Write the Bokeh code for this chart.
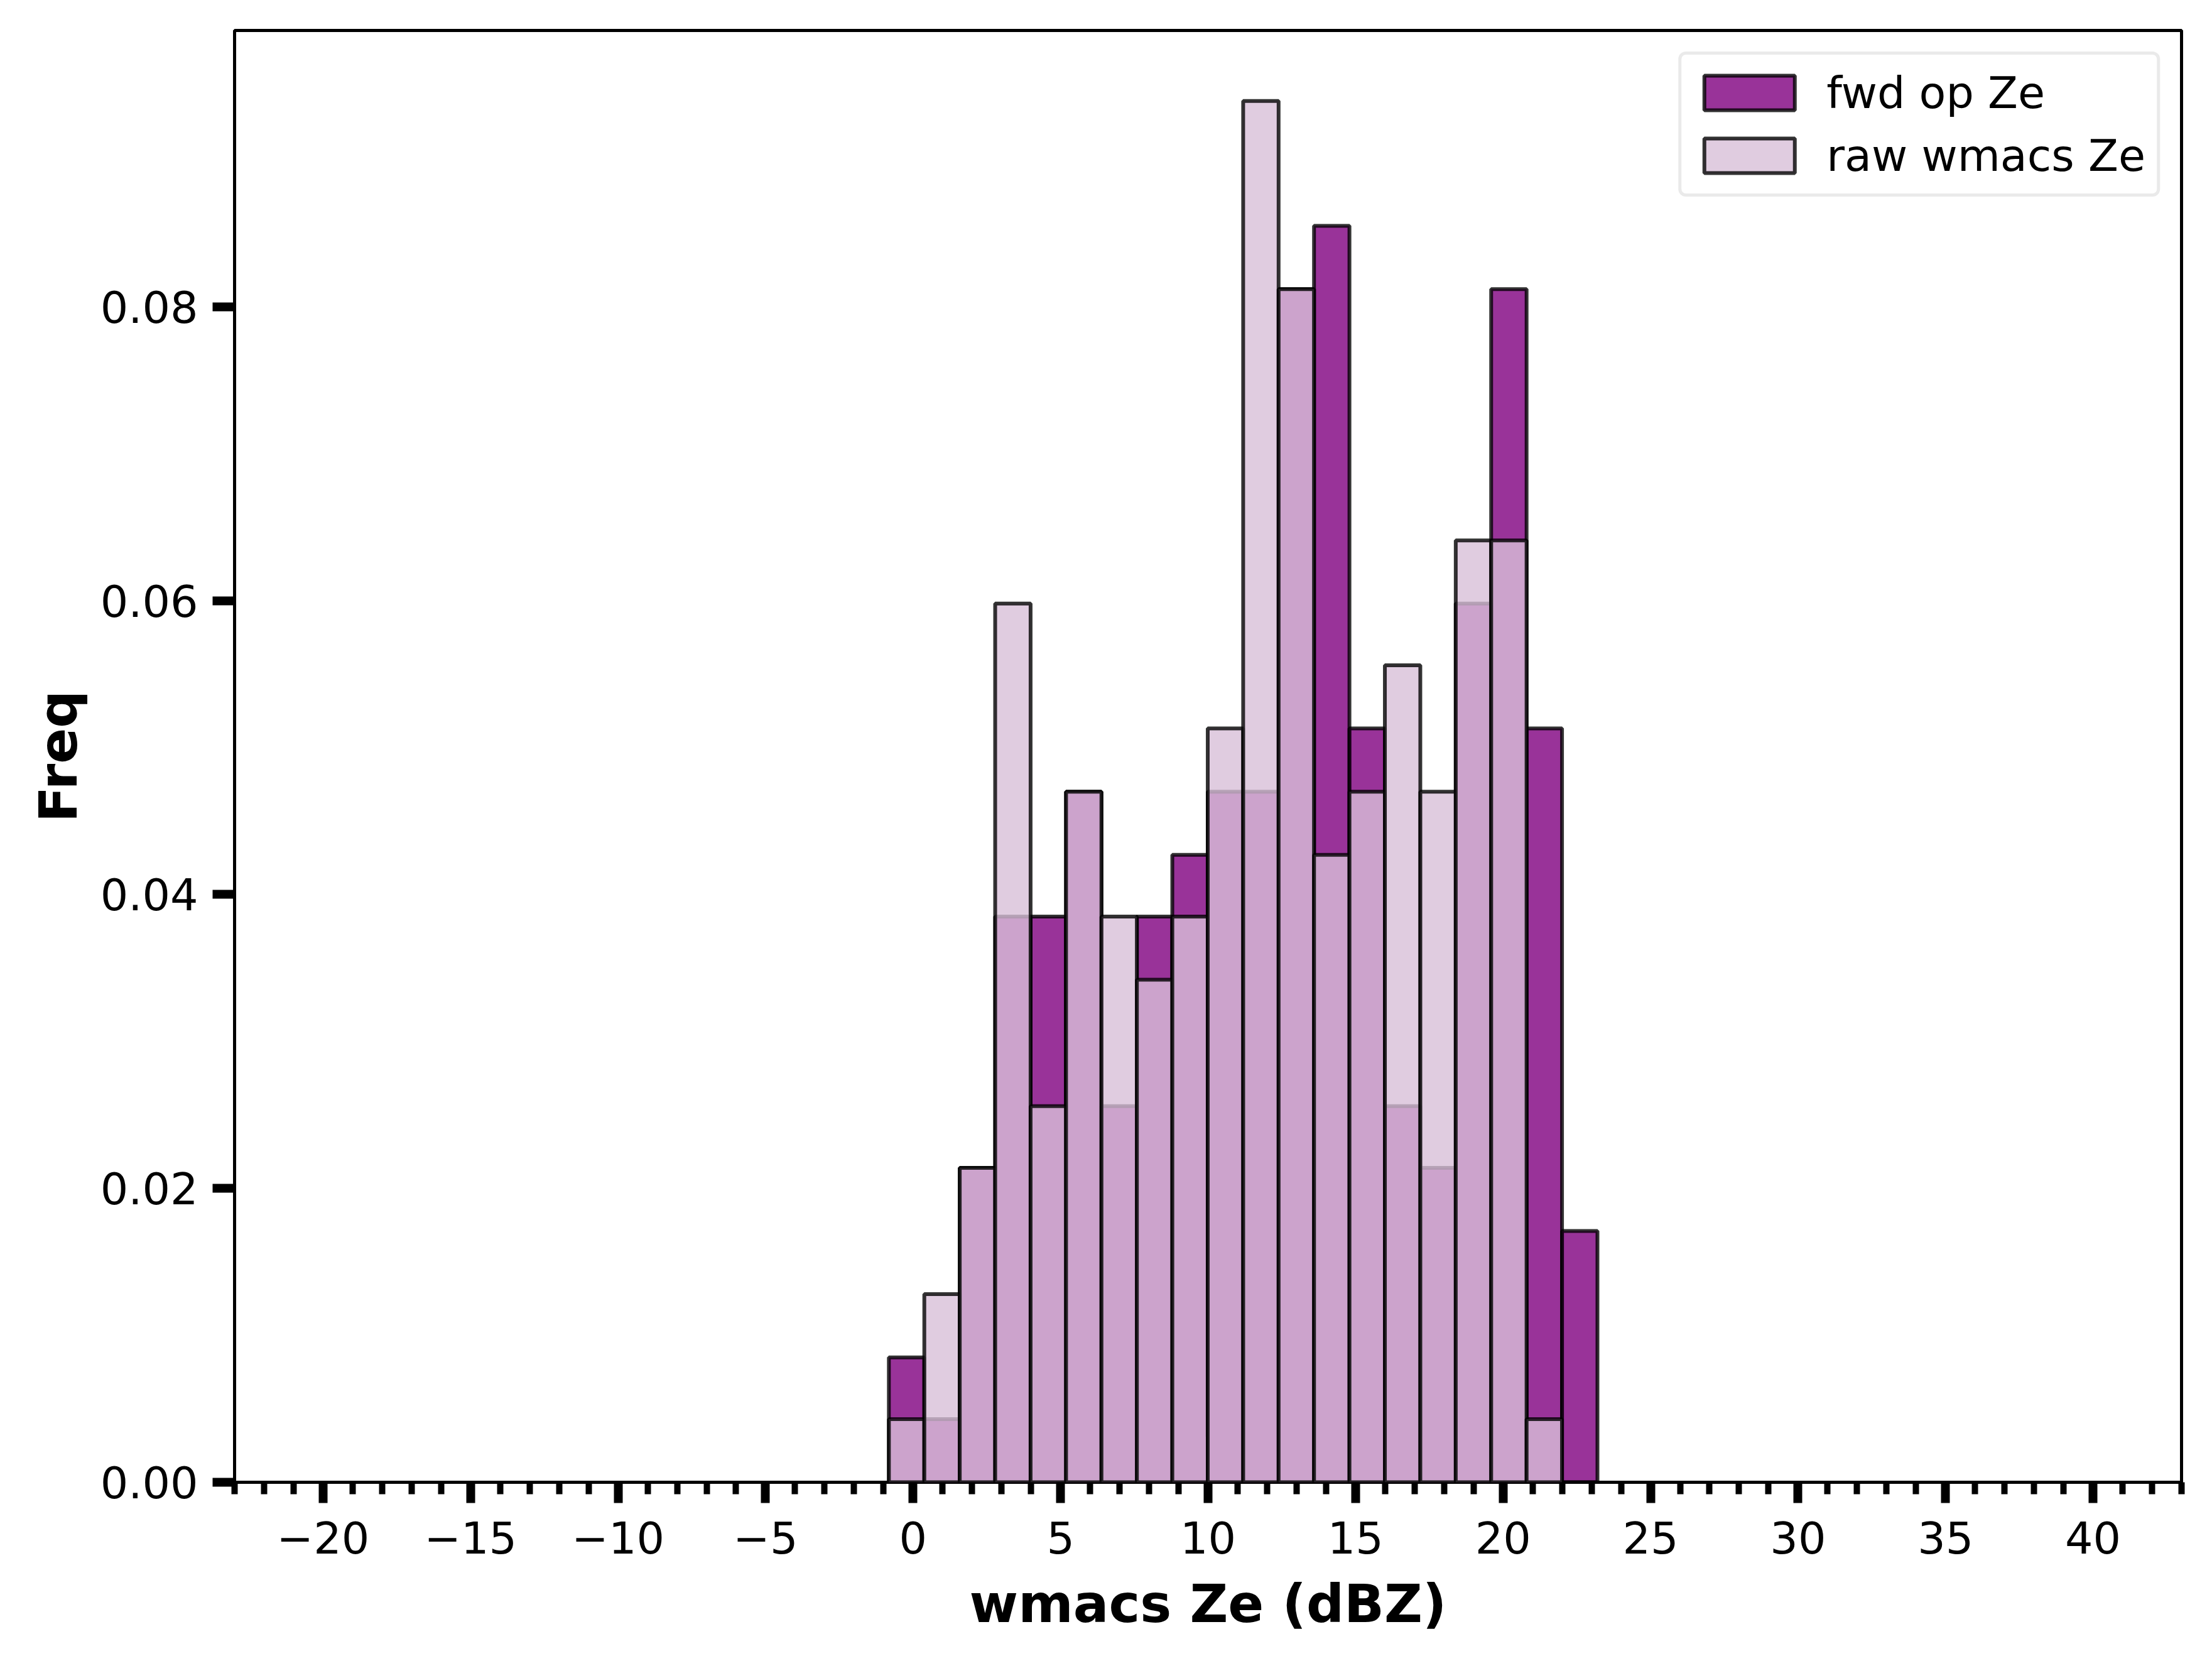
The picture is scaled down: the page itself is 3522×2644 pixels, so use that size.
from bokeh.plotting import figure
from bokeh.models import Range1d, SingleIntervalTicker, NumeralTickFormatter, Legend, LegendItem
from bokeh.embed import file_html
from bokeh.resources import INLINE

# ---- data (density histogram) ----
bin_edges = [-0.82, 0.381, 1.582, 2.783, 3.984, 5.185, 6.386, 7.587, 8.788, 9.989,
             11.19, 12.391, 13.592, 14.793, 15.994, 17.195, 18.396, 19.597, 20.798,
             21.999, 23.2]
fwd_op_ze = [0.0085, 0.0043, 0.0214, 0.0385, 0.0385, 0.0470, 0.0256, 0.0385, 0.0427, 0.0470,
             0.0470, 0.0812, 0.0855, 0.0513, 0.0256, 0.0214, 0.0598, 0.0812, 0.0513, 0.0171]
raw_wmacs_ze = [0.0043, 0.0128, 0.0214, 0.0598, 0.0256, 0.0470, 0.0385, 0.0342, 0.0385, 0.0513,
                0.0940, 0.0812, 0.0427, 0.0470, 0.0556, 0.0470, 0.0641, 0.0641, 0.0043, 0.0]
series_names = ["fwd op Ze", "raw wmacs Ze"]
x_ticks = [-20, -15, -10, -5, 0, 5, 10, 15, 20, 25, 30, 35, 40]
x_tick_labels = ["\u221220", "\u221215", "\u221210", "\u22125", "0", "5", "10", "15",
                 "20", "25", "30", "35", "40"]
x_label = "wmacs Ze (dBZ)"
y_label = "Freq"

FONT = "DejaVu Sans"

p = figure(width=3506, height=2628, output_backend="svg", toolbar_location=None,
           x_range=Range1d(-23, 43), y_range=Range1d(0, 0.0988),
           min_border_left=373, min_border_right=33, min_border_top=48,
           min_border_bottom=269)
p.background_fill_color = "white"
p.border_fill_color = "white"
p.grid.visible = False
p.outline_line_color = "black"
p.outline_line_width = 5
p.outline_line_alpha = 1.0

left = bin_edges[:-1]
right = bin_edges[1:]

r_fwd = p.quad(left=left, right=right, bottom=0, top=fwd_op_ze,
               fill_color="#800080", fill_alpha=0.8,
               line_color="black", line_alpha=0.8, line_width=6)
r_raw = p.quad(left=left, right=right, bottom=0, top=raw_wmacs_ze,
               fill_color="#D8BFD8", fill_alpha=0.8,
               line_color="black", line_alpha=0.8, line_width=6)

# x axis
xa = p.xaxis[0]
xa.ticker = SingleIntervalTicker(interval=5, num_minor_ticks=5)
xa.major_label_overrides = {float(v): s for v, s in zip(x_ticks, x_tick_labels)}
xa.axis_label = x_label
# y axis
ya = p.yaxis[0]
ya.ticker = SingleIntervalTicker(interval=0.02, num_minor_ticks=0)
ya.formatter = NumeralTickFormatter(format="0.00")
ya.axis_label = y_label
ya.minor_tick_line_color = None

for ax in (xa, ya):
    ax.axis_line_color = None
    ax.major_tick_line_color = "black"
    ax.major_tick_line_width = 14
    ax.major_tick_in = 0
    ax.minor_tick_in = 0
    ax.major_label_text_font = FONT
    ax.major_label_text_font_size = "70px"
    ax.major_label_text_color = "black"
    ax.axis_label_text_font = FONT
    ax.axis_label_text_font_size = "84px"
    ax.axis_label_text_font_style = "bold"
    ax.axis_label_text_color = "black"

xa.major_tick_out = 33
xa.minor_tick_out = 19
xa.minor_tick_line_color = "black"
xa.minor_tick_line_width = 10
xa.major_label_standoff = 29
xa.axis_label_standoff = 28

ya.major_tick_out = 35
ya.major_label_standoff = 23
ya.axis_label_standoff = 15

legend = Legend(items=[LegendItem(label=series_names[0], renderers=[r_fwd]),
                       LegendItem(label=series_names[1], renderers=[r_raw])],
                location="top_right", margin=34, padding=18,
                glyph_width=180, glyph_height=69, label_height=85,
                label_standoff=33, spacing=15,
                label_text_font=FONT, label_text_font_size="70px",
                label_text_color="black",
                border_line_color="#d6d6d6", border_line_width=5,
                border_radius=12,
                background_fill_color="white", background_fill_alpha=0.8)
p.add_layout(legend)

open("out.html", "w").write(file_html(p, INLINE))
